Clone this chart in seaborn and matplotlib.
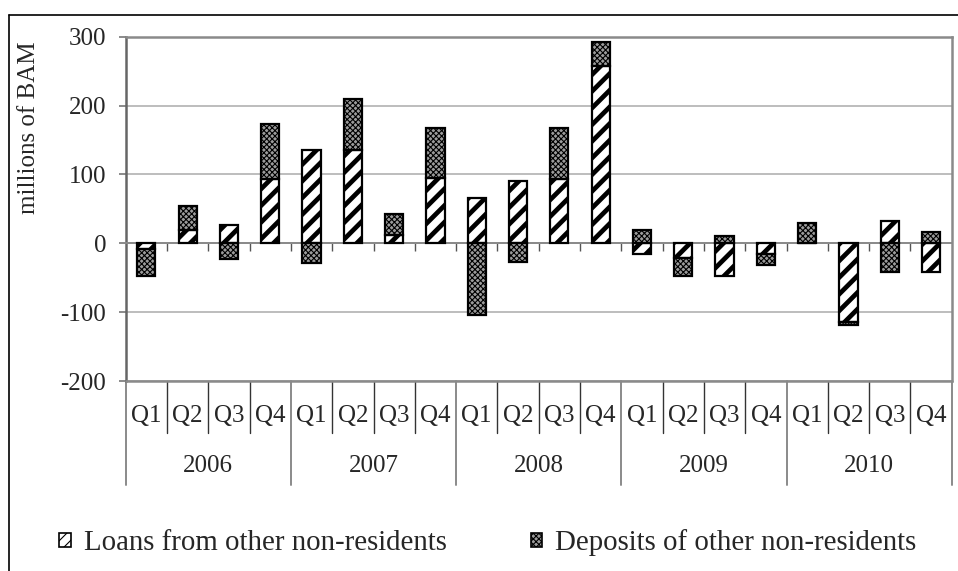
import matplotlib
matplotlib.use("Agg")
import matplotlib.pyplot as plt
from matplotlib.lines import Line2D
from matplotlib.patches import Patch
import matplotlib.transforms as mtransforms
import numpy as np
import pandas as pd
import seaborn as sns

# Quarterly flows, millions of BAM
years = ["2006", "2007", "2008", "2009", "2010"]
quarters = ["Q1", "Q2", "Q3", "Q4"]
loans = [-8, 19, 26, 94, 135, 136, 12, 95, 66, 91, 93, 258,
         -16, -22, -47, -15, 0, -114, 32, -42]
deposits = [-39, 35, -23, 79, -29, 74, 30, 72, -104, -27, 74, 34,
            19, -25, 10, -17, 29, -5, -42, 17]
yticks = [-200, -100, 0, 100, 200, 300]

labels = [f"{y} {q}" for y in years for q in quarters]
df = pd.DataFrame({"period": labels, "loans": loans, "deposits": deposits})
# positive values stack on positive ones, negative on negative
df["dep_base"] = [l if (l >= 0) == (d >= 0) else 0 for l, d in zip(loans, deposits)]

sns.set_theme(style="white")
serif = ["Liberation Serif", "DejaVu Serif"]
plt.rcParams["font.family"] = serif
plt.rcParams["hatch.color"] = "black"
FS = 18
LEG_FS = 20.8
DEP_FACE = "#9c9c9c"

fig = plt.figure(figsize=(9.58, 5.71), dpi=100)
ax = fig.add_axes([125.7 / 958, 1 - 381 / 571, 826 / 958, (381 - 36.7) / 571])


def draw(col, hatch, hlw, face, bottom=None):
    before = len(ax.patches)
    plt.rcParams["hatch.linewidth"] = hlw
    kws = dict(data=df, x="period", y=col, order=labels, ax=ax, width=0.44,
               color=face, saturation=1, edgecolor="black", linewidth=1.6,
               hatch=hatch, errorbar=None, zorder=3)
    if bottom is not None:
        kws["bottom"] = df[bottom].values
    sns.barplot(**kws)
    for p in ax.patches[before:]:
        if hasattr(p, "set_hatch_linewidth"):
            p.set_hatch_linewidth(hlw)


draw("loans", "//", 3.4, "white")
draw("deposits", "xxxxxx", 0.8, DEP_FACE, bottom="dep_base")

ax.set_xlim(-0.5, len(labels) - 0.5)
ax.set_ylim(-200, 300)
ax.set_yticks(yticks)
ax.set_yticklabels([str(v) for v in yticks], fontsize=FS, family=serif)
ax.yaxis.grid(True, color="#bdbdbd", linewidth=1.4, zorder=0)
ax.set_axisbelow(True)
ax.tick_params(axis="y", direction="out", length=5, width=1.2, color="#777777",
               pad=9, left=True)

# category axis sits on the zero line, ticks on category boundaries
ax.spines["bottom"].set_position(("data", 0))
ax.spines["bottom"].set_color("#8a8a8a")
ax.spines["bottom"].set_linewidth(1.4)
ax.set_xticks(np.arange(0.5, len(labels) - 1, 1.0))
ax.set_xticklabels([])
ax.tick_params(axis="x", direction="out", length=6, width=1.0, color="#555555",
               bottom=True)
ax.set_xlabel("")
ax.set_ylabel("")

for side in ["left", "top", "right"]:
    ax.spines[side].set_color("#8a8a8a")
    ax.spines[side].set_linewidth(1.8)
ax.spines["left"].set_color("#666666")
ax.axhline(-200, color="#8a8a8a", linewidth=1.8, zorder=4, clip_on=False)

# multi-level category labels below the plot
trans = mtransforms.blended_transform_factory(ax.transData, ax.transAxes)
for i, lab in enumerate(labels):
    ax.text(i, -0.102, lab.split()[1], transform=trans, ha="center", va="center",
            fontsize=FS, family=serif)
    if i > 0 and i % 4:
        ax.add_line(Line2D([i - 0.5, i - 0.5], [0, -0.151], transform=trans,
                           color="#333333", linewidth=1.0, clip_on=False))
for k, yr in enumerate(years):
    ax.text(4 * k + 1.5, -0.247, yr, transform=trans, ha="center", va="center",
            fontsize=FS, family=serif)
for b in range(0, 21, 4):
    ax.add_line(Line2D([b - 0.5, b - 0.5], [0, -0.302], transform=trans,
                       color="#8a8a8a", linewidth=1.4, clip_on=False))

fig.text(29 / 958, 1 - 128 / 571, "millions of BAM", rotation=90, ha="center",
         va="center", fontsize=FS, family=serif)

handles = [Patch(facecolor="white", edgecolor="black", hatch="///", linewidth=1.2),
           Patch(facecolor=DEP_FACE, edgecolor="black", hatch="xxxxxx", linewidth=1.2)]
leg = fig.legend(handles, ["Loans from other non-residents", "Deposits of other non-residents"],
                 loc="center", bbox_to_anchor=(488 / 958, 1 - 543 / 571), ncol=2,
                 frameon=False, prop={"family": serif, "size": LEG_FS},
                 handlelength=0.4, handleheight=0.4, handletextpad=0.45,
                 columnspacing=2.9)

# outer chart border
fig.add_artist(Line2D([9 / 958, 9 / 958], [0, 1 - 15 / 571], transform=fig.transFigure,
                      color="black", linewidth=1.2))
fig.add_artist(Line2D([9 / 958, 1], [1 - 15 / 571, 1 - 15 / 571], transform=fig.transFigure,
                      color="black", linewidth=1.2))

fig.savefig("out.png", dpi=100)
